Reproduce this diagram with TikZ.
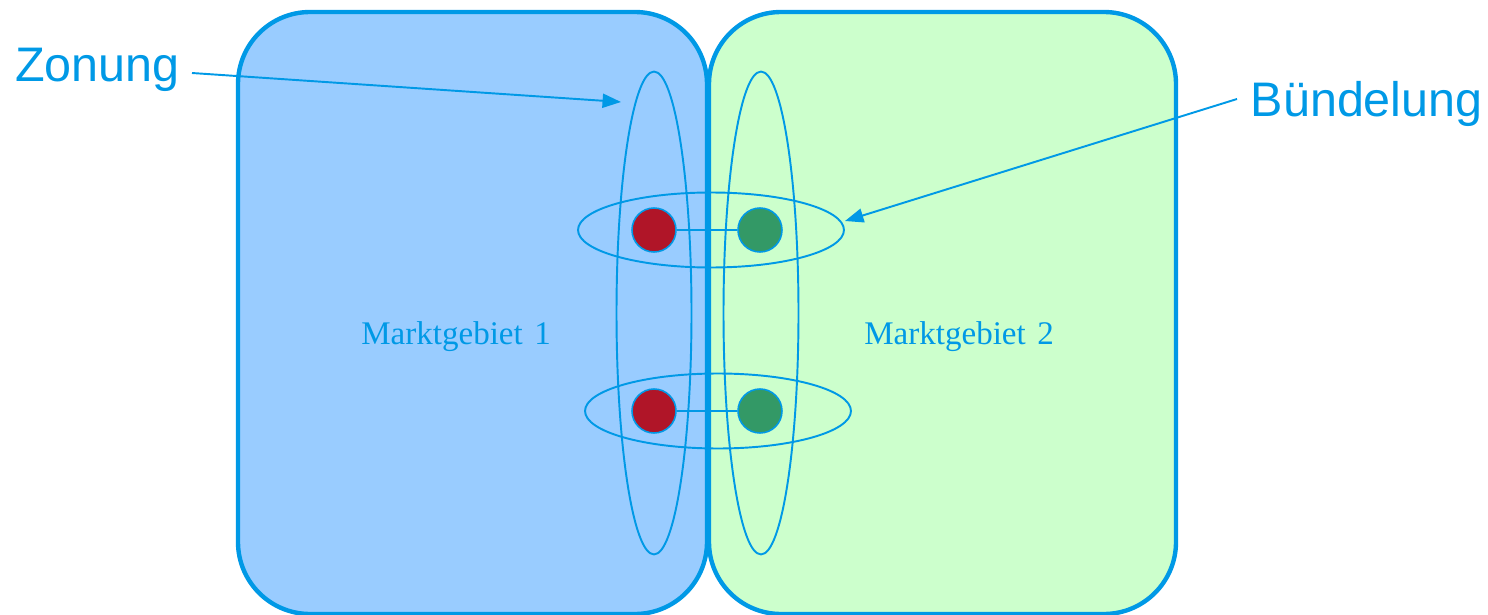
\documentclass[tikz,border=0pt]{standalone}
\usepackage{fontspec}
\setmainfont{Liberation Serif}
\newfontfamily\labelfont{Liberation Sans}
\usetikzlibrary{shapes.geometric,arrows.meta}
\definecolor{lineblue}{RGB}{0,153,230}
\definecolor{areablue}{RGB}{153,204,255}
\definecolor{areagreen}{RGB}{204,255,204}
\definecolor{dotred}{RGB}{176,21,40}
\definecolor{dotgreen}{RGB}{51,153,102}
\tikzset{
  area/.style={draw=lineblue, line width=2.5pt, rounded corners=1.44cm},
  zone/.style={ellipse, draw=lineblue, line width=1.1pt, inner sep=0pt,
    minimum width=1.5cm, minimum height=9.66cm},
  bundle/.style={ellipse, draw=lineblue, line width=1.1pt, inner sep=0pt,
    minimum width=5.32cm, minimum height=1.5cm},
  dot/.style={circle, draw=lineblue, line width=0.9pt, inner sep=0pt,
    minimum size=0.88cm},
  link/.style={draw=lineblue, line width=0.9pt},
  pointer/.style={draw=lineblue, line width=1.1pt,
    -{Triangle[length=10.5pt,width=8pt]}},
  biglabel/.style={text=lineblue, font=\labelfont\fontsize{27.6}{30}\selectfont,
    inner sep=0pt},
  arealabel/.style={text=lineblue, font=\fontsize{18.8}{22}\selectfont,
    inner sep=0pt, anchor=base west}
}
\begin{document}
\begin{tikzpicture}[x=0.02cm, y=-0.02cm]
  \useasboundingbox (0,0) rectangle (1488,615);

  % two market areas
  \path[area, fill=areablue] (238,12) rectangle (707,614);
  \path[area, fill=areagreen] (709,12) rectangle (1176,614);

  % zones (vertical) and bundles (horizontal)
  \node[zone] (zoneL) at (654,313) {};
  \node[zone] (zoneR) at (761,313) {};
  \node[bundle] (bundleT) at (711,230) {};
  \node[bundle] (bundleB) at (718,411) {};

  % interconnection points
  \node[dot, fill=dotred] (r1) at (654,230) {};
  \node[dot, fill=dotgreen] (g1) at (760,230) {};
  \node[dot, fill=dotred] (r2) at (654,411) {};
  \node[dot, fill=dotgreen] (g2) at (760,411) {};
  \draw[link] (r1) -- (g1);
  \draw[link] (r2) -- (g2);

  % area names
  \node[arealabel] (m1) at (361,344) {Marktgebiet\hspace{0.35em}1};
  \node[arealabel] (m2) at (864,344) {Marktgebiet\hspace{0.35em}2};

  % callouts
  \node[biglabel, anchor=base west] (zonung) at (15,82) {Zonung};
  \node[biglabel, anchor=base east] (buendelung) at (1483,117) {Bündelung};
  \coordinate (zs) at (192,73);
  \coordinate (zt) at (621,102);
  \coordinate (bs) at (1237,99);
  \coordinate (bt) at (845,221);
  \draw[pointer] (zs) -- (zt);
  \draw[pointer] (bs) -- (bt);
\end{tikzpicture}
\end{document}
